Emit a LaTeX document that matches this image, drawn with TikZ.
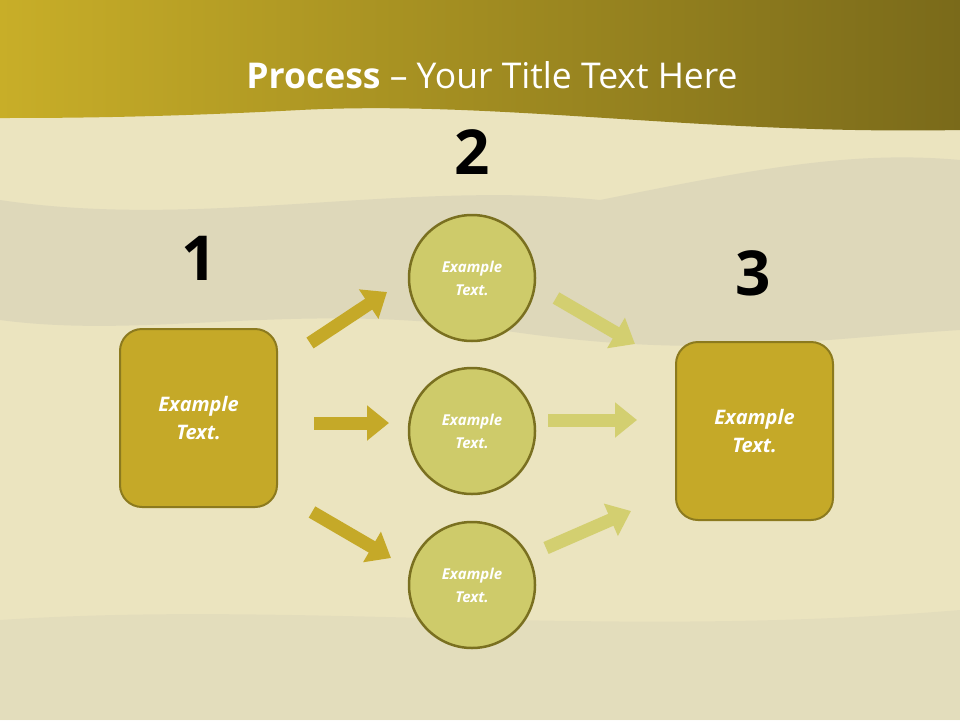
\documentclass[tikz,border=0pt]{standalone}
\usepackage{fontspec}
\setmainfont{Open Sans}
\usetikzlibrary{arrows.meta}
\definecolor{bg}{HTML}{EBE4BF}
\definecolor{cloud}{HTML}{D6D0B8}
\definecolor{gold}{HTML}{C5A928}
\definecolor{goldb}{HTML}{8C7A1E}
\definecolor{lite}{HTML}{CECB6A}
\definecolor{liteb}{HTML}{7A7020}
\definecolor{larr}{HTML}{D3CF70}
\definecolor{banL}{HTML}{C8AE28}
\definecolor{banR}{HTML}{7A6A1A}
\tikzset{
  sq/.style={draw=goldb,line width=2pt,fill=gold,rounded corners=22pt,minimum width=157pt,minimum height=178pt,text=white,font=\fontsize{20}{28}\selectfont\bfseries\itshape,align=center},
  circ/.style={circle,draw=liteb,line width=2.5pt,fill=lite,minimum size=126pt,text=white,font=\fontsize{15}{23}\selectfont\bfseries\itshape,align=center},
  num/.style={font=\fontsize{62}{62}\selectfont\bfseries,text=black},
  darr/.style={draw=gold,line width=13pt,-{Triangle[width=34pt,length=22pt]}},
  larw/.style={draw=larr,line width=13pt,-{Triangle[width=34pt,length=22pt]}}
}
\begin{document}
\begin{tikzpicture}[x=1pt,y=-1pt]
\useasboundingbox (0,0) rectangle (960,720);
\fill[bg] (0,0) rectangle (960,720);
\fill[cloud,opacity=0.6] (0,200) .. controls (200,230) and (400,180) .. (600,200) .. controls (750,170) and (850,150) .. (960,160) -- (960,330) .. controls (800,340) and (700,360) .. (500,330) .. controls (300,300) and (150,340) .. (0,320) -- cycle;
\fill[cloud,opacity=0.35] (0,620) .. controls (300,600) and (600,640) .. (960,610) -- (960,720) -- (0,720) -- cycle;
\shade[left color=banL,right color=banR] (0,0) -- (960,0) -- (960,130) .. controls (700,135) and (500,100) .. (300,110) .. controls (150,118) and (50,118) .. (0,118) -- cycle;
\node[text=white,font=\fontsize{35.5}{40}\selectfont] (title) at (492,75) {\textbf{Process} – Your Title Text Here};
\node[num] (n1) at (199,258) {1};
\node[num] (n2) at (472,152) {2};
\node[num] (n3) at (753,273) {3};
\node[sq] (b1) at (198.5,418) {Example\\Text.};
\node[sq] (b3) at (754.5,431) {Example\\Text.};
\node[circ] (c1) at (472,278) {Example\\Text.};
\node[circ] (c2) at (472,431) {Example\\Text.};
\node[circ] (c3) at (472,585) {Example\\Text.};
\coordinate (a1s) at (310,343); \coordinate (a1e) at (387,292);
\coordinate (a2s) at (314,423); \coordinate (a2e) at (389,423);
\coordinate (a3s) at (312,512); \coordinate (a3e) at (391,558);
\coordinate (b1s) at (556,298); \coordinate (b1e) at (635,344);
\coordinate (b2s) at (548,420); \coordinate (b2e) at (637,420);
\coordinate (b3s) at (546,548); \coordinate (b3e) at (631,511);
\draw[darr] (a1s) -- (a1e);
\draw[darr] (a2s) -- (a2e);
\draw[darr] (a3s) -- (a3e);
\draw[larw] (b1s) -- (b1e);
\draw[larw] (b2s) -- (b2e);
\draw[larw] (b3s) -- (b3e);
\end{tikzpicture}
\end{document}
